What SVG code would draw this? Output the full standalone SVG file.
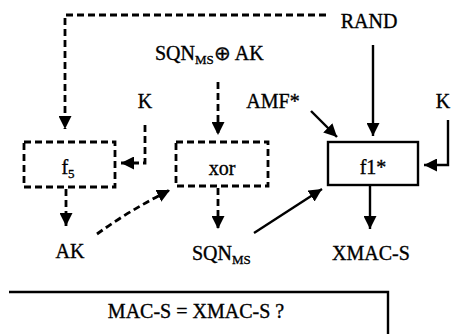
<svg xmlns="http://www.w3.org/2000/svg" width="455" height="334" viewBox="0 0 455 334" font-family="'Liberation Serif', serif">
<style>
text{font-family:'Liberation Serif','Times New Roman',serif;font-size:20px;fill:#000;stroke:#000;stroke-width:0.35}
.sub{font-size:13px}
.dash{fill:none;stroke:#000;stroke-width:2.8;stroke-dasharray:7 4}
.solid{fill:none;stroke:#000;stroke-width:2.4}
.box{fill:#fff}
</style>
<defs>
<marker id="ah" markerUnits="userSpaceOnUse" markerWidth="13" markerHeight="13" viewBox="0 0 13 13" refX="13" refY="6.5" orient="auto">
<path d="M0,0 L13,6.5 L0,13 Z" fill="#000"/>
</marker>
</defs>
<g id="connectors">
<path class="dash" d="M326,15 H65 V129" marker-end="url(#ah)"/>
<path class="dash" d="M145,125 V163 H121" marker-end="url(#ah)"/>
<path class="dash" d="M218,82 V135" marker-end="url(#ah)"/>
<path class="solid" d="M373,45 V136" marker-end="url(#ah)"/>
<path class="solid" d="M311,111 L337,137" marker-end="url(#ah)"/>
<path class="solid" d="M448,120 V165 H424" marker-end="url(#ah)"/>
<path class="dash" d="M66,189 V226" marker-end="url(#ah)"/>
<path class="dash" d="M97,234 Q130,210 170,190" marker-end="url(#ah)"/>
<path class="dash" d="M218,188 V229" marker-end="url(#ah)"/>
<path class="solid" d="M254,233 L322,189" marker-end="url(#ah)"/>
<path class="solid" d="M370,186 V229" marker-end="url(#ah)"/>
</g>
<g id="f5">
<rect class="dash box" x="24" y="142" width="91" height="45"/>
<text x="68" y="174" text-anchor="middle">f<tspan class="sub" dy="4">5</tspan></text>
</g>
<g id="xor">
<rect class="dash box" x="176" y="142" width="92" height="44"/>
<text x="222" y="175" text-anchor="middle">xor</text>
</g>
<g id="f1">
<rect class="solid box" x="328" y="142" width="90" height="43"/>
<text x="373" y="174" text-anchor="middle">f1*</text>
</g>
<g id="labels">
<text x="369" y="28" text-anchor="middle">RAND</text>
<text x="155" y="60">SQN<tspan class="sub" dy="4">MS</tspan><tspan dy="-4">⊕ AK</tspan></text>
<text x="145" y="108" text-anchor="middle">K</text>
<text x="273" y="108" text-anchor="middle">AMF*</text>
<text x="443" y="108" text-anchor="middle">K</text>
<text x="70" y="258" text-anchor="middle">AK</text>
<text x="192" y="260">SQN<tspan class="sub" dy="4">MS</tspan></text>
<text x="371" y="260" text-anchor="middle">XMAC-S</text>
</g>
<g id="check">
<path class="solid" d="M9,292 H388 V340"/>
<text x="196" y="318" text-anchor="middle">MAC-S = XMAC-S ?</text>
</g>
</svg>
